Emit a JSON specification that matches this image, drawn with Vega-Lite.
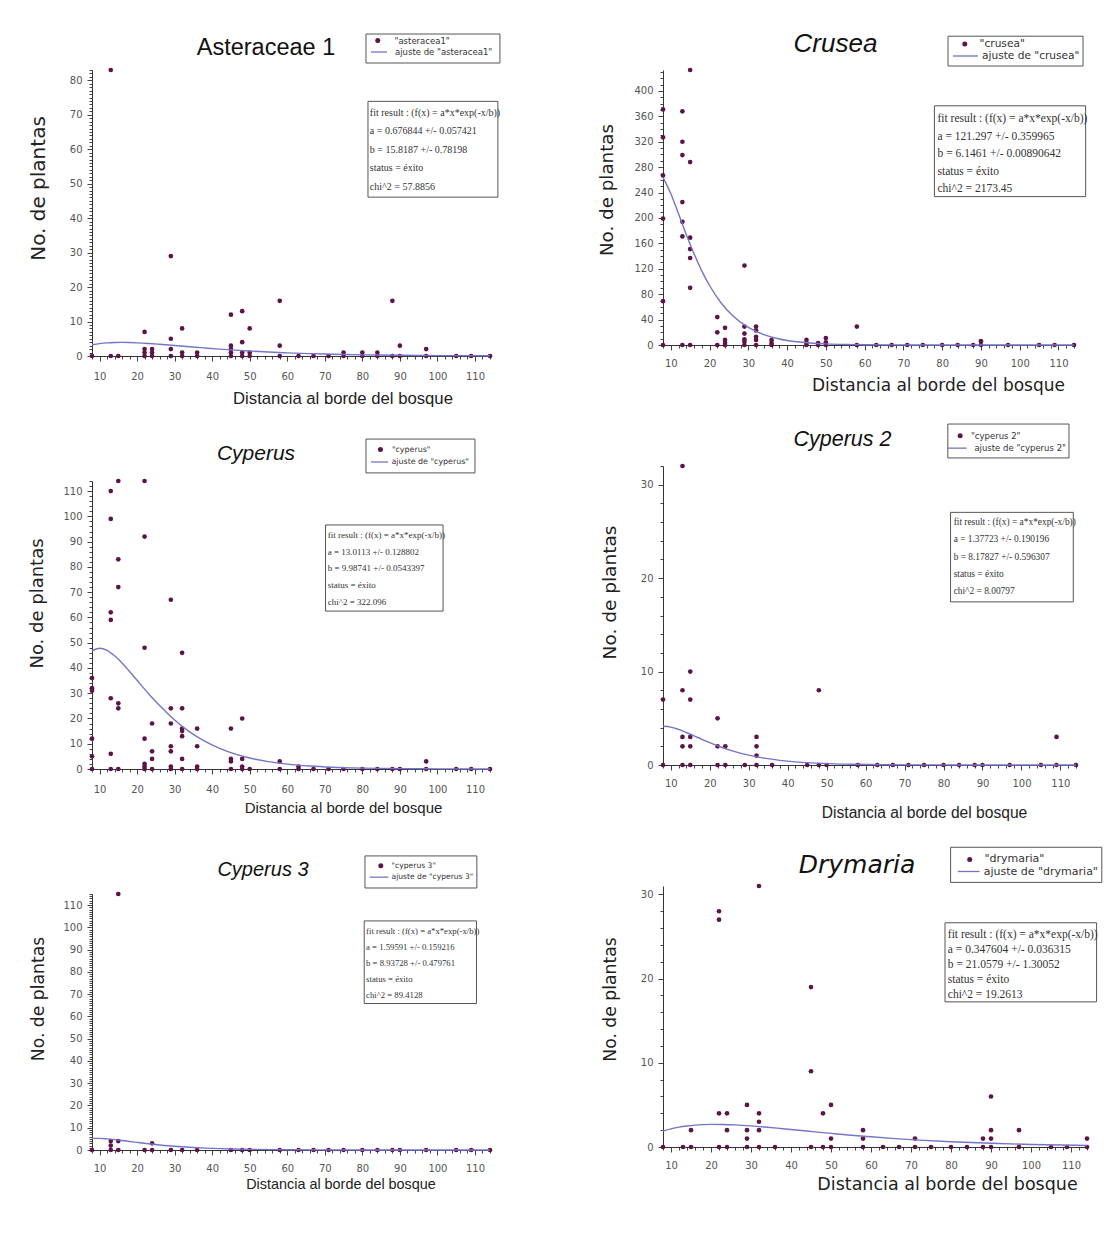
{
  "$schema": "https://vega.github.io/schema/vega-lite/v6.json",
  "background": "white",
  "padding": {"left": 28, "top": 30, "right": 2, "bottom": 2},
  "config": {
    "view": {"stroke": null},
    "axis": {"grid": false, "domainColor": "#333", "domainWidth": 1, "tickColor": "#444", "tickWidth": 1, "labelColor": "#555", "labelFont": "DejaVu Sans", "labelFontSize": 10, "titleFont": "DejaVu Sans", "titleFontWeight": "normal", "titleColor": "#222", "labelOverlap": false, "labelFlush": false, "labelBound": false},
    "legend": {"padding": 0, "rowPadding": 0, "labelFont": "DejaVu Sans", "labelColor": "#333", "symbolStrokeWidth": 1.3, "symbolOpacity": 1},
    "title": {"font": "Liberation Sans", "fontWeight": "normal", "color": "#111", "frame": "group", "anchor": "middle"}
  },
  "datasets": {
    "ast": [
      {"x": 8, "y": 0}, {"x": 13, "y": 83}, {"x": 13, "y": 0}, {"x": 15, "y": 0},
      {"x": 22, "y": 7}, {"x": 22, "y": 2}, {"x": 22, "y": 1}, {"x": 22, "y": 0},
      {"x": 24, "y": 2}, {"x": 24, "y": 1}, {"x": 24, "y": 0},
      {"x": 29, "y": 29}, {"x": 29, "y": 5}, {"x": 29, "y": 2}, {"x": 29, "y": 0},
      {"x": 32, "y": 8}, {"x": 32, "y": 1}, {"x": 32, "y": 0},
      {"x": 36, "y": 1}, {"x": 36, "y": 0},
      {"x": 45, "y": 12}, {"x": 45, "y": 3}, {"x": 45, "y": 2}, {"x": 45, "y": 1}, {"x": 45, "y": 0},
      {"x": 48, "y": 13}, {"x": 48, "y": 4}, {"x": 48, "y": 1}, {"x": 48, "y": 0},
      {"x": 50, "y": 8}, {"x": 50, "y": 1}, {"x": 50, "y": 0},
      {"x": 58, "y": 16}, {"x": 58, "y": 3}, {"x": 58, "y": 0},
      {"x": 63, "y": 0}, {"x": 67, "y": 0}, {"x": 71, "y": 0},
      {"x": 75, "y": 1}, {"x": 75, "y": 0}, {"x": 80, "y": 1}, {"x": 80, "y": 0},
      {"x": 84, "y": 1}, {"x": 84, "y": 0}, {"x": 88, "y": 16}, {"x": 88, "y": 0},
      {"x": 90, "y": 3}, {"x": 90, "y": 0}, {"x": 97, "y": 2}, {"x": 97, "y": 0},
      {"x": 105, "y": 0}, {"x": 109, "y": 0}, {"x": 114, "y": 0}
    ],
    "ast_fit": [
      {"x": 8, "y": 3.27}, {"x": 10, "y": 3.6}, {"x": 12, "y": 3.8}, {"x": 14, "y": 3.91}, {"x": 16, "y": 3.94}, {"x": 18, "y": 3.9}, {"x": 20, "y": 3.82}, {"x": 23, "y": 3.64}, {"x": 26, "y": 3.4}, {"x": 30, "y": 3.05}, {"x": 34, "y": 2.68}, {"x": 38, "y": 2.33}, {"x": 42, "y": 2.0}, {"x": 46, "y": 1.7}, {"x": 50, "y": 1.43}, {"x": 55, "y": 1.15}, {"x": 60, "y": 0.92}, {"x": 66, "y": 0.69}, {"x": 72, "y": 0.51}, {"x": 80, "y": 0.34}, {"x": 90, "y": 0.21}, {"x": 100, "y": 0.12}, {"x": 114, "y": 0.06}
    ],
    "cru": [
      {"x": 8, "y": 371}, {"x": 8, "y": 327}, {"x": 8, "y": 267}, {"x": 8, "y": 199}, {"x": 8, "y": 69}, {"x": 8, "y": 0},
      {"x": 13, "y": 368}, {"x": 13, "y": 320}, {"x": 13, "y": 299}, {"x": 13, "y": 225}, {"x": 13, "y": 194}, {"x": 13, "y": 171}, {"x": 13, "y": 0},
      {"x": 15, "y": 433}, {"x": 15, "y": 288}, {"x": 15, "y": 169}, {"x": 15, "y": 151}, {"x": 15, "y": 137}, {"x": 15, "y": 90}, {"x": 15, "y": 0},
      {"x": 22, "y": 44}, {"x": 22, "y": 20}, {"x": 22, "y": 0},
      {"x": 24, "y": 27}, {"x": 24, "y": 8}, {"x": 24, "y": 3}, {"x": 24, "y": 0},
      {"x": 29, "y": 125}, {"x": 29, "y": 29}, {"x": 29, "y": 18}, {"x": 29, "y": 9}, {"x": 29, "y": 5}, {"x": 29, "y": 0},
      {"x": 32, "y": 29}, {"x": 32, "y": 23}, {"x": 32, "y": 13}, {"x": 32, "y": 8}, {"x": 32, "y": 0},
      {"x": 36, "y": 8}, {"x": 36, "y": 3}, {"x": 36, "y": 0},
      {"x": 45, "y": 8}, {"x": 45, "y": 3}, {"x": 45, "y": 0},
      {"x": 48, "y": 3}, {"x": 48, "y": 0}, {"x": 50, "y": 11}, {"x": 50, "y": 4}, {"x": 50, "y": 0},
      {"x": 58, "y": 29}, {"x": 58, "y": 0}, {"x": 63, "y": 0}, {"x": 67, "y": 0}, {"x": 71, "y": 0}, {"x": 75, "y": 0},
      {"x": 80, "y": 0}, {"x": 84, "y": 0}, {"x": 88, "y": 0}, {"x": 90, "y": 6}, {"x": 90, "y": 0},
      {"x": 97, "y": 0}, {"x": 105, "y": 0}, {"x": 109, "y": 0}, {"x": 114, "y": 0}
    ],
    "cru_fit": [
      {"x": 8, "y": 264.0}, {"x": 10, "y": 238.4}, {"x": 12, "y": 206.6}, {"x": 14, "y": 174.1}, {"x": 16, "y": 143.7}, {"x": 18, "y": 116.7}, {"x": 20, "y": 93.7}, {"x": 23, "y": 66.2}, {"x": 26, "y": 45.9}, {"x": 30, "y": 27.6}, {"x": 34, "y": 16.3}, {"x": 38, "y": 9.5}, {"x": 42, "y": 5.5}, {"x": 46, "y": 3.1}, {"x": 50, "y": 1.8}, {"x": 55, "y": 0.9}, {"x": 60, "y": 0.4}, {"x": 66, "y": 0.2}, {"x": 72, "y": 0.1}, {"x": 80, "y": 0}, {"x": 90, "y": 0}, {"x": 100, "y": 0}, {"x": 114, "y": 0}
    ],
    "cyp": [
      {"x": 8, "y": 36}, {"x": 8, "y": 32}, {"x": 8, "y": 31}, {"x": 8, "y": 12}, {"x": 8, "y": 5}, {"x": 8, "y": 0},
      {"x": 13, "y": 110}, {"x": 13, "y": 99}, {"x": 13, "y": 62}, {"x": 13, "y": 59}, {"x": 13, "y": 28}, {"x": 13, "y": 6}, {"x": 13, "y": 0},
      {"x": 15, "y": 114}, {"x": 15, "y": 83}, {"x": 15, "y": 72}, {"x": 15, "y": 26}, {"x": 15, "y": 24}, {"x": 15, "y": 0},
      {"x": 22, "y": 114}, {"x": 22, "y": 92}, {"x": 22, "y": 48}, {"x": 22, "y": 12}, {"x": 22, "y": 2}, {"x": 22, "y": 1}, {"x": 22, "y": 0},
      {"x": 24, "y": 18}, {"x": 24, "y": 7}, {"x": 24, "y": 4}, {"x": 24, "y": 0},
      {"x": 29, "y": 67}, {"x": 29, "y": 24}, {"x": 29, "y": 18}, {"x": 29, "y": 9}, {"x": 29, "y": 7}, {"x": 29, "y": 1}, {"x": 29, "y": 0},
      {"x": 32, "y": 46}, {"x": 32, "y": 24}, {"x": 32, "y": 16}, {"x": 32, "y": 15}, {"x": 32, "y": 13}, {"x": 32, "y": 4}, {"x": 32, "y": 0},
      {"x": 36, "y": 16}, {"x": 36, "y": 9}, {"x": 36, "y": 1}, {"x": 36, "y": 0},
      {"x": 45, "y": 16}, {"x": 45, "y": 4}, {"x": 45, "y": 3}, {"x": 45, "y": 0},
      {"x": 48, "y": 20}, {"x": 48, "y": 4}, {"x": 48, "y": 1}, {"x": 48, "y": 0},
      {"x": 50, "y": 0}, {"x": 58, "y": 3}, {"x": 58, "y": 0}, {"x": 63, "y": 1}, {"x": 63, "y": 0},
      {"x": 67, "y": 0}, {"x": 71, "y": 0}, {"x": 75, "y": 0}, {"x": 80, "y": 0}, {"x": 84, "y": 0}, {"x": 88, "y": 0}, {"x": 90, "y": 0},
      {"x": 97, "y": 3}, {"x": 97, "y": 0}, {"x": 105, "y": 0}, {"x": 109, "y": 0}, {"x": 114, "y": 0}
    ],
    "cyp_fit": [
      {"x": 8, "y": 46.7}, {"x": 10, "y": 47.8}, {"x": 12, "y": 47.0}, {"x": 14, "y": 44.8}, {"x": 16, "y": 42.0}, {"x": 18, "y": 38.6}, {"x": 20, "y": 35.1}, {"x": 23, "y": 29.9}, {"x": 26, "y": 25.1}, {"x": 30, "y": 19.4}, {"x": 34, "y": 14.7}, {"x": 38, "y": 11.0}, {"x": 42, "y": 8.15}, {"x": 46, "y": 5.98}, {"x": 50, "y": 4.36}, {"x": 55, "y": 2.91}, {"x": 60, "y": 1.92}, {"x": 66, "y": 1.16}, {"x": 72, "y": 0.69}, {"x": 80, "y": 0.35}, {"x": 90, "y": 0.14}, {"x": 100, "y": 0.06}, {"x": 114, "y": 0.02}
    ],
    "cyp2": [
      {"x": 8, "y": 7}, {"x": 8, "y": 0},
      {"x": 13, "y": 32}, {"x": 13, "y": 8}, {"x": 13, "y": 3}, {"x": 13, "y": 2}, {"x": 13, "y": 0},
      {"x": 15, "y": 10}, {"x": 15, "y": 7}, {"x": 15, "y": 3}, {"x": 15, "y": 2}, {"x": 15, "y": 0},
      {"x": 22, "y": 5}, {"x": 22, "y": 2}, {"x": 22, "y": 0}, {"x": 24, "y": 2}, {"x": 24, "y": 0},
      {"x": 29, "y": 0}, {"x": 32, "y": 3}, {"x": 32, "y": 2}, {"x": 32, "y": 1}, {"x": 32, "y": 0},
      {"x": 36, "y": 0}, {"x": 45, "y": 0}, {"x": 48, "y": 8}, {"x": 48, "y": 0}, {"x": 50, "y": 0},
      {"x": 58, "y": 0}, {"x": 63, "y": 0}, {"x": 67, "y": 0}, {"x": 71, "y": 0}, {"x": 75, "y": 0}, {"x": 80, "y": 0},
      {"x": 84, "y": 0}, {"x": 88, "y": 0}, {"x": 90, "y": 0}, {"x": 97, "y": 0}, {"x": 105, "y": 0},
      {"x": 109, "y": 3}, {"x": 109, "y": 0}, {"x": 114, "y": 0}
    ],
    "cyp2_fit": [
      {"x": 8, "y": 4.14}, {"x": 10, "y": 4.06}, {"x": 12, "y": 3.81}, {"x": 14, "y": 3.48}, {"x": 16, "y": 3.12}, {"x": 18, "y": 2.74}, {"x": 20, "y": 2.39}, {"x": 23, "y": 1.9}, {"x": 26, "y": 1.49}, {"x": 30, "y": 1.05}, {"x": 34, "y": 0.73}, {"x": 38, "y": 0.5}, {"x": 42, "y": 0.34}, {"x": 46, "y": 0.23}, {"x": 50, "y": 0.15}, {"x": 55, "y": 0.09}, {"x": 60, "y": 0.05}, {"x": 66, "y": 0.03}, {"x": 72, "y": 0.01}, {"x": 80, "y": 0.01}, {"x": 90, "y": 0}, {"x": 100, "y": 0}, {"x": 114, "y": 0}
    ],
    "cyp3": [
      {"x": 8, "y": 0}, {"x": 13, "y": 4}, {"x": 13, "y": 2}, {"x": 13, "y": 0},
      {"x": 15, "y": 115}, {"x": 15, "y": 4}, {"x": 15, "y": 0},
      {"x": 22, "y": 0}, {"x": 24, "y": 3}, {"x": 24, "y": 0}, {"x": 29, "y": 0}, {"x": 32, "y": 0}, {"x": 36, "y": 0},
      {"x": 45, "y": 0}, {"x": 48, "y": 0}, {"x": 50, "y": 0}, {"x": 58, "y": 0}, {"x": 63, "y": 0}, {"x": 67, "y": 0},
      {"x": 71, "y": 0}, {"x": 75, "y": 0}, {"x": 80, "y": 0}, {"x": 84, "y": 0}, {"x": 88, "y": 0}, {"x": 90, "y": 0},
      {"x": 97, "y": 0}, {"x": 105, "y": 0}, {"x": 109, "y": 0}, {"x": 114, "y": 0}
    ],
    "cyp3_fit": [
      {"x": 8, "y": 5.22}, {"x": 10, "y": 5.21}, {"x": 12, "y": 5.0}, {"x": 14, "y": 4.67}, {"x": 16, "y": 4.26}, {"x": 18, "y": 3.83}, {"x": 20, "y": 3.41}, {"x": 23, "y": 2.8}, {"x": 26, "y": 2.26}, {"x": 30, "y": 1.67}, {"x": 34, "y": 1.21}, {"x": 38, "y": 0.86}, {"x": 42, "y": 0.61}, {"x": 46, "y": 0.43}, {"x": 50, "y": 0.3}, {"x": 55, "y": 0.19}, {"x": 60, "y": 0.12}, {"x": 66, "y": 0.07}, {"x": 72, "y": 0.04}, {"x": 80, "y": 0.02}, {"x": 90, "y": 0.01}, {"x": 100, "y": 0}, {"x": 114, "y": 0}
    ],
    "dry": [
      {"x": 8, "y": 0}, {"x": 13, "y": 0}, {"x": 15, "y": 2}, {"x": 15, "y": 0},
      {"x": 22, "y": 28}, {"x": 22, "y": 27}, {"x": 22, "y": 4}, {"x": 22, "y": 0},
      {"x": 24, "y": 4}, {"x": 24, "y": 2}, {"x": 24, "y": 0},
      {"x": 29, "y": 5}, {"x": 29, "y": 2}, {"x": 29, "y": 1}, {"x": 29, "y": 0},
      {"x": 32, "y": 31}, {"x": 32, "y": 4}, {"x": 32, "y": 3}, {"x": 32, "y": 2}, {"x": 32, "y": 0},
      {"x": 36, "y": 0}, {"x": 45, "y": 19}, {"x": 45, "y": 9}, {"x": 45, "y": 0},
      {"x": 48, "y": 4}, {"x": 48, "y": 0}, {"x": 50, "y": 5}, {"x": 50, "y": 1}, {"x": 50, "y": 0},
      {"x": 58, "y": 2}, {"x": 58, "y": 1}, {"x": 58, "y": 0}, {"x": 63, "y": 0}, {"x": 67, "y": 0},
      {"x": 71, "y": 1}, {"x": 71, "y": 0}, {"x": 75, "y": 0}, {"x": 80, "y": 0}, {"x": 84, "y": 0},
      {"x": 88, "y": 1}, {"x": 88, "y": 0}, {"x": 90, "y": 6}, {"x": 90, "y": 2}, {"x": 90, "y": 1}, {"x": 90, "y": 0},
      {"x": 97, "y": 2}, {"x": 97, "y": 0}, {"x": 105, "y": 0}, {"x": 109, "y": 0}, {"x": 114, "y": 1}, {"x": 114, "y": 0}
    ],
    "dry_fit": [
      {"x": 8, "y": 1.9}, {"x": 10, "y": 2.16}, {"x": 12, "y": 2.36}, {"x": 14, "y": 2.5}, {"x": 16, "y": 2.6}, {"x": 18, "y": 2.66}, {"x": 20, "y": 2.69}, {"x": 23, "y": 2.68}, {"x": 26, "y": 2.63}, {"x": 30, "y": 2.51}, {"x": 34, "y": 2.35}, {"x": 38, "y": 2.17}, {"x": 42, "y": 1.99}, {"x": 46, "y": 1.8}, {"x": 50, "y": 1.62}, {"x": 55, "y": 1.4}, {"x": 60, "y": 1.21}, {"x": 66, "y": 1.0}, {"x": 72, "y": 0.82}, {"x": 80, "y": 0.62}, {"x": 90, "y": 0.44}, {"x": 100, "y": 0.3}, {"x": 114, "y": 0.18}
    ]
  },
  "resolve": {"scale": {"color": "independent"}, "legend": {"color": "independent"}},
  "spacing": 95,
  "hconcat": [
    {
      "vconcat": [
        {
          "width": 398, "height": 286,
          "title": {"text": "Asteraceae 1", "fontSize": 23.5, "fontStyle": "normal", "dx": -25, "offset": -26},
          "resolve": {"scale": {"color": "independent"}, "legend": {"color": "independent"}},
          "layer": [
            {"data": {"values": [{}]}, "mark": {"type": "rect", "fill": "white", "stroke": "#555", "strokeWidth": 1}, "encoding": {"x": {"datum": 80.97}, "x2": {"datum": 116.65}, "y": {"datum": 93.44}, "y2": {"datum": 85.03}}},
            {"data": {"values": [{}]}, "mark": {"type": "rect", "fill": "white", "stroke": "#555", "strokeWidth": 1}, "encoding": {"x": {"datum": 81.5}, "x2": {"datum": 116.1}, "y": {"datum": 73.9}, "y2": {"datum": 46.1}}},
            {"data": {"values": [{}]}, "mark": {"type": "text", "align": "left", "baseline": "top", "font": "Liberation Serif", "fontSize": 10, "lineHeight": 18.5, "color": "#333"}, "encoding": {"x": {"datum": 82}, "y": {"datum": 72}, "text": {"value": ["fit result : (f(x) = a*x*exp(-x/b))", "a = 0.676844 +/- 0.057421", "b = 15.8187 +/- 0.78198", "status = éxito", "chi^2 = 57.8856"]}}},
            {"data": {"name": "ast"}, "mark": {"type": "point", "filled": true, "shape": "circle", "size": 22, "opacity": 1},
              "encoding": {
                "x": {"field": "x", "type": "quantitative", "scale": {"domain": [8, 114], "nice": false, "zero": false}, "axis": {"title": "Distancia al borde del bosque", "tickCount": 53, "labelExpr": "datum.value % 10 === 0 ? datum.label : ''", "tickSize": {"condition": {"test": "datum.value % 10 === 0", "value": 5}, "value": 3}, "labelPadding": 10, "titleFont": "Liberation Sans", "titleFontSize": 16.7, "titleX": 250.5, "titleY": 42, "titleAlign": "center", "titleBaseline": "middle"}},
                "y": {"field": "y", "type": "quantitative", "scale": {"domain": [0, 83], "nice": false}, "axis": {"title": "No. de plantas", "tickCount": 83, "labelExpr": "datum.value % 10 === 0 ? datum.label : ''", "tickSize": {"condition": {"test": "datum.value % 10 === 0", "value": 5}, "value": 3}, "labelPadding": 5, "titleFontSize": 20, "titleX": -53.5, "titleY": 118, "titleAlign": "center", "titleBaseline": "middle"}},
                "color": {"datum": "\"asteracea1\"", "scale": {"domain": ["\"asteracea1\""], "range": ["#5c1448"]},
                  "legend": {"orient": "none", "legendX": 281.5, "legendY": -33.75, "title": null, "symbolType": "circle", "symbolSize": 25, "labelOffset": 12.5, "labelFontSize": 8.5}}
              }},
            {"data": {"name": "ast_fit"}, "mark": {"type": "line", "interpolate": "monotone", "strokeWidth": 1.4},
              "encoding": {"x": {"field": "x", "type": "quantitative"}, "y": {"field": "y", "type": "quantitative"},
                "color": {"datum": "ajuste de \"asteracea1\"", "scale": {"domain": ["ajuste de \"asteracea1\""], "range": ["#7574c6"]},
                  "legend": {"orient": "none", "legendX": 278, "legendY": -27, "title": null, "symbolType": "stroke", "symbolSize": 256, "labelOffset": 7, "labelFontSize": 8.5}}}}
          ]
        },
        {
          "width": 398, "height": 288,
          "title": {"text": "Cyperus", "fontSize": 21, "fontStyle": "italic", "dx": -35, "offset": -25},
          "resolve": {"scale": {"color": "independent"}, "legend": {"color": "independent"}},
          "layer": [
            {"data": {"values": [{}]}, "mark": {"type": "rect", "fill": "white", "stroke": "#555", "strokeWidth": 1}, "encoding": {"x": {"datum": 80.97}, "x2": {"datum": 110.0}, "y": {"datum": 130.6}, "y2": {"datum": 117.2}}},
            {"data": {"values": [{}]}, "mark": {"type": "rect", "fill": "white", "stroke": "#555", "strokeWidth": 1}, "encoding": {"x": {"datum": 70.2}, "x2": {"datum": 101.5}, "y": {"datum": 96.6}, "y2": {"datum": 62.5}}},
            {"data": {"values": [{}]}, "mark": {"type": "text", "align": "left", "baseline": "top", "font": "Liberation Serif", "fontSize": 9, "lineHeight": 16.7, "color": "#333"}, "encoding": {"x": {"datum": 70.8}, "y": {"datum": 94.2}, "text": {"value": ["fit result : (f(x) = a*x*exp(-x/b))", "a = 13.0113 +/- 0.128802", "b = 9.98741 +/- 0.0543397", "status = éxito", "chi^2 = 322.096"]}}},
            {"data": {"name": "cyp"}, "mark": {"type": "point", "filled": true, "shape": "circle", "size": 22, "opacity": 1},
              "encoding": {
                "x": {"field": "x", "type": "quantitative", "scale": {"domain": [8, 114], "nice": false, "zero": false}, "axis": {"title": "Distancia al borde del bosque", "tickCount": 53, "labelExpr": "datum.value % 10 === 0 ? datum.label : ''", "tickSize": {"condition": {"test": "datum.value % 10 === 0", "value": 5}, "value": 3}, "labelPadding": 10, "titleFont": "Liberation Sans", "titleFontSize": 15, "titleX": 251, "titleY": 38.7, "titleAlign": "center", "titleBaseline": "middle"}},
                "y": {"field": "y", "type": "quantitative", "scale": {"domain": [0, 114], "nice": false}, "axis": {"title": "No. de plantas", "tickCount": 57, "labelExpr": "datum.value % 10 === 0 ? datum.label : ''", "tickSize": {"condition": {"test": "datum.value % 10 === 0", "value": 5}, "value": 3}, "labelPadding": 5, "titleFontSize": 18, "titleX": -54.5, "titleY": 122, "titleAlign": "center", "titleBaseline": "middle"}},
                "color": {"datum": "\"cyperus\"", "scale": {"domain": ["\"cyperus\""], "range": ["#5c1448"]},
                  "legend": {"orient": "none", "legendX": 284.5, "legendY": -35.4, "title": null, "symbolType": "circle", "symbolSize": 25, "labelOffset": 7.5, "labelFontSize": 7.9}}
              }},
            {"data": {"name": "cyp_fit"}, "mark": {"type": "line", "interpolate": "monotone", "strokeWidth": 1.4},
              "encoding": {"x": {"field": "x", "type": "quantitative"}, "y": {"field": "y", "type": "quantitative"},
                "color": {"datum": "ajuste de \"cyperus\"", "scale": {"domain": ["ajuste de \"cyperus\""], "range": ["#7574c6"]},
                  "legend": {"orient": "none", "legendX": 278, "legendY": -28.5, "title": null, "symbolType": "stroke", "symbolSize": 289, "labelOffset": 2.5, "labelFontSize": 7.9}}}}
          ]
        },
        {
          "width": 398, "height": 256,
          "title": {"text": "Cyperus 3", "fontSize": 20, "fontStyle": "italic", "dx": -28, "offset": -25},
          "resolve": {"scale": {"color": "independent"}, "legend": {"color": "independent"}},
          "layer": [
            {"data": {"values": [{}]}, "mark": {"type": "rect", "fill": "white", "stroke": "#555", "strokeWidth": 1}, "encoding": {"x": {"datum": 80.7}, "x2": {"datum": 110.5}, "y": {"datum": 132.1}, "y2": {"datum": 117.7}}},
            {"data": {"values": [{}]}, "mark": {"type": "rect", "fill": "white", "stroke": "#555", "strokeWidth": 1}, "encoding": {"x": {"datum": 80.5}, "x2": {"datum": 110.4}, "y": {"datum": 102.9}, "y2": {"datum": 65.8}}},
            {"data": {"values": [{}]}, "mark": {"type": "text", "align": "left", "baseline": "top", "font": "Liberation Serif", "fontSize": 8.7, "lineHeight": 16, "color": "#333"}, "encoding": {"x": {"datum": 81}, "y": {"datum": 100.4}, "text": {"value": ["fit result : (f(x) = a*x*exp(-x/b))", "a = 1.59591 +/- 0.159216", "b = 8.93728 +/- 0.479761", "status = éxito", "chi^2 = 89.4128"]}}},
            {"data": {"name": "cyp3"}, "mark": {"type": "point", "filled": true, "shape": "circle", "size": 22, "opacity": 1},
              "encoding": {
                "x": {"field": "x", "type": "quantitative", "scale": {"domain": [8, 114], "nice": false, "zero": false}, "axis": {"title": "Distancia al borde del bosque", "tickCount": 53, "labelExpr": "datum.value % 10 === 0 ? datum.label : ''", "tickSize": {"condition": {"test": "datum.value % 10 === 0", "value": 5}, "value": 3}, "labelPadding": 8, "titleFont": "Liberation Sans", "titleFontSize": 14.4, "titleX": 248.5, "titleY": 34.3, "titleAlign": "center", "titleBaseline": "middle"}},
                "y": {"field": "y", "type": "quantitative", "scale": {"domain": [0, 115], "nice": false}, "axis": {"title": "No. de plantas", "tickCount": 115, "labelExpr": "datum.value % 10 === 0 ? datum.label : ''", "tickSize": {"condition": {"test": "datum.value % 10 === 0", "value": 5}, "value": 3}, "labelPadding": 5, "titleFontSize": 17.2, "titleX": -53.5, "titleY": 104.5, "titleAlign": "center", "titleBaseline": "middle"}},
                "color": {"datum": "\"cyperus 3\"", "scale": {"domain": ["\"cyperus 3\""], "range": ["#5c1448"]},
                  "legend": {"orient": "none", "legendX": 285, "legendY": -32.1, "title": null, "symbolType": "circle", "symbolSize": 25, "labelOffset": 7, "labelFontSize": 7.6}}
              }},
            {"data": {"name": "cyp3_fit"}, "mark": {"type": "line", "interpolate": "monotone", "strokeWidth": 1.4},
              "encoding": {"x": {"field": "x", "type": "quantitative"}, "y": {"field": "y", "type": "quantitative"},
                "color": {"datum": "ajuste de \"cyperus 3\"", "scale": {"domain": ["ajuste de \"cyperus 3\""], "range": ["#7574c6"]},
                  "legend": {"orient": "none", "legendX": 276.5, "legendY": -27.35, "title": null, "symbolType": "stroke", "symbolSize": 350, "labelOffset": 2, "labelFontSize": 7.6}}}}
          ]
        }
      ],
      "spacing": 125, "bounds": "flush",
      "resolve": {"scale": {"color": "independent"}, "legend": {"color": "independent"}}
    },
    {
      "vconcat": [
        {
          "width": 411, "height": 275,
          "title": {"text": "Crusea", "fontSize": 26, "fontStyle": "italic", "dx": -33, "offset": -21},
          "resolve": {"scale": {"color": "independent"}, "legend": {"color": "independent"}},
          "layer": [
            {"data": {"values": [{}]}, "mark": {"type": "rect", "fill": "white", "stroke": "#555", "strokeWidth": 1}, "encoding": {"x": {"datum": 81.51}, "x2": {"datum": 116.33}, "y": {"datum": 486.2}, "y2": {"datum": 439.3}}},
            {"data": {"values": [{}]}, "mark": {"type": "rect", "fill": "white", "stroke": "#555", "strokeWidth": 1}, "encoding": {"x": {"datum": 78}, "x2": {"datum": 117}, "y": {"datum": 376.6}, "y2": {"datum": 233.6}}},
            {"data": {"values": [{}]}, "mark": {"type": "text", "align": "left", "baseline": "top", "font": "Liberation Serif", "fontSize": 11.5, "lineHeight": 17.5, "color": "#333"}, "encoding": {"x": {"datum": 78.8}, "y": {"datum": 365}, "text": {"value": ["fit result : (f(x) = a*x*exp(-x/b))", "a = 121.297 +/- 0.359965", "b = 6.1461 +/- 0.00890642", "status = éxito", "chi^2 = 2173.45"]}}},
            {"data": {"name": "cru"}, "mark": {"type": "point", "filled": true, "shape": "circle", "size": 22, "opacity": 1},
              "encoding": {
                "x": {"field": "x", "type": "quantitative", "scale": {"domain": [8, 114], "nice": false, "zero": false}, "axis": {"title": "Distancia al borde del bosque", "tickCount": 53, "labelExpr": "datum.value % 10 === 0 ? datum.label : ''", "tickSize": {"condition": {"test": "datum.value % 10 === 0", "value": 5}, "value": 3}, "labelPadding": 8, "titleFontSize": 17, "titleX": 275, "titleY": 40, "titleAlign": "center", "titleBaseline": "middle"}},
                "y": {"field": "y", "type": "quantitative", "scale": {"domain": [0, 433], "nice": false}, "axis": {"title": "No. de plantas", "tickCount": 43, "labelExpr": "datum.value % 40 === 0 ? datum.label : ''", "tickSize": {"condition": {"test": "datum.value % 40 === 0", "value": 5}, "value": 3}, "labelPadding": 5, "titleFontSize": 18.3, "titleX": -56, "titleY": 119.5, "titleAlign": "center", "titleBaseline": "middle"}},
                "color": {"datum": "\"crusea\"", "scale": {"domain": ["\"crusea\""], "range": ["#5c1448"]},
                  "legend": {"orient": "none", "legendX": 296.5, "legendY": -31.2, "title": null, "symbolType": "circle", "symbolSize": 25, "labelOffset": 9.5, "labelFontSize": 10.6}}
              }},
            {"data": {"name": "cru_fit"}, "mark": {"type": "line", "interpolate": "monotone", "strokeWidth": 1.4},
              "encoding": {"x": {"field": "x", "type": "quantitative"}, "y": {"field": "y", "type": "quantitative"},
                "color": {"datum": "ajuste de \"crusea\"", "scale": {"domain": ["ajuste de \"crusea\""], "range": ["#7574c6"]},
                  "legend": {"orient": "none", "legendX": 289, "legendY": -27.5, "title": null, "symbolType": "stroke", "symbolSize": 625, "labelOffset": 3, "labelFontSize": 10.6}}}}
          ]
        },
        {
          "width": 413, "height": 299,
          "title": {"text": "Cyperus 2", "fontSize": 21.5, "fontStyle": "italic", "dx": -27, "offset": -27},
          "resolve": {"scale": {"color": "independent"}, "legend": {"color": "independent"}},
          "layer": [
            {"data": {"values": [{}]}, "mark": {"type": "rect", "fill": "white", "stroke": "#555", "strokeWidth": 1}, "encoding": {"x": {"datum": 81.1}, "x2": {"datum": 112.2}, "y": {"datum": 36.49}, "y2": {"datum": 32.86}}},
            {"data": {"values": [{}]}, "mark": {"type": "rect", "fill": "white", "stroke": "#555", "strokeWidth": 1}, "encoding": {"x": {"datum": 81.8}, "x2": {"datum": 113.3}, "y": {"datum": 27.04}, "y2": {"datum": 17.46}}},
            {"data": {"values": [{}]}, "mark": {"type": "text", "align": "left", "baseline": "top", "font": "Liberation Serif", "fontSize": 9.4, "lineHeight": 17.3, "color": "#333"}, "encoding": {"x": {"datum": 82.6}, "y": {"datum": 26.43}, "text": {"value": ["fit result : (f(x) = a*x*exp(-x/b))", "a = 1.37723 +/- 0.190196", "b = 8.17827 +/- 0.596307", "status = éxito", "chi^2 = 8.00797"]}}},
            {"data": {"name": "cyp2"}, "mark": {"type": "point", "filled": true, "shape": "circle", "size": 22, "opacity": 1},
              "encoding": {
                "x": {"field": "x", "type": "quantitative", "scale": {"domain": [8, 114], "nice": false, "zero": false}, "axis": {"title": "Distancia al borde del bosque", "tickCount": 53, "labelExpr": "datum.value % 10 === 0 ? datum.label : ''", "tickSize": {"condition": {"test": "datum.value % 10 === 0", "value": 5}, "value": 3}, "labelPadding": 8, "titleFont": "Liberation Sans", "titleFontSize": 15.6, "titleX": 261, "titleY": 47, "titleAlign": "center", "titleBaseline": "middle"}},
                "y": {"field": "y", "type": "quantitative", "scale": {"domain": [0, 32], "nice": false}, "axis": {"title": "No. de plantas", "tickCount": 16, "labelExpr": "datum.value % 10 === 0 ? datum.label : ''", "tickSize": {"condition": {"test": "datum.value % 10 === 0", "value": 5}, "value": 3}, "labelPadding": 5, "titleFontSize": 18.5, "titleX": -54, "titleY": 126, "titleAlign": "center", "titleBaseline": "middle"}},
                "color": {"datum": "\"cyperus 2\"", "scale": {"domain": ["\"cyperus 2\""], "range": ["#5c1448"]},
                  "legend": {"orient": "none", "legendX": 292.9, "legendY": -34.6, "title": null, "symbolType": "circle", "symbolSize": 25, "labelOffset": 6.5, "labelFontSize": 8.5}}
              }},
            {"data": {"name": "cyp2_fit"}, "mark": {"type": "line", "interpolate": "monotone", "strokeWidth": 1.4},
              "encoding": {"x": {"field": "x", "type": "quantitative"}, "y": {"field": "y", "type": "quantitative"},
                "color": {"datum": "ajuste de \"cyperus 2\"", "scale": {"domain": ["ajuste de \"cyperus 2\""], "range": ["#7574c6"]},
                  "legend": {"orient": "none", "legendX": 283.8, "legendY": -28.35, "title": null, "symbolType": "stroke", "symbolSize": 350, "labelOffset": 6.6, "labelFontSize": 8.5}}}}
          ]
        },
        {
          "width": 424, "height": 261,
          "title": {"text": "Drymaria", "font": "DejaVu Sans", "fontSize": 25, "fontStyle": "italic", "dx": -18, "offset": -31},
          "resolve": {"scale": {"color": "independent"}, "legend": {"color": "independent"}},
          "layer": [
            {"data": {"values": [{}]}, "mark": {"type": "rect", "fill": "white", "stroke": "#555", "strokeWidth": 1}, "encoding": {"x": {"datum": 79.9}, "x2": {"datum": 117.7}, "y": {"datum": 35.6}, "y2": {"datum": 31.43}}},
            {"data": {"values": [{}]}, "mark": {"type": "rect", "fill": "white", "stroke": "#555", "strokeWidth": 1}, "encoding": {"x": {"datum": 78.5}, "x2": {"datum": 116.4}, "y": {"datum": 26.63}, "y2": {"datum": 17.24}}},
            {"data": {"values": [{}]}, "mark": {"type": "text", "align": "left", "baseline": "top", "font": "Liberation Serif", "fontSize": 11.5, "lineHeight": 15, "color": "#333"}, "encoding": {"x": {"datum": 79.2}, "y": {"datum": 25.92}, "text": {"value": ["fit result : (f(x) = a*x*exp(-x/b))", "a = 0.347604 +/- 0.036315", "b = 21.0579 +/- 1.30052", "status = éxito", "chi^2 = 19.2613"]}}},
            {"data": {"name": "dry"}, "mark": {"type": "point", "filled": true, "shape": "circle", "size": 22, "opacity": 1},
              "encoding": {
                "x": {"field": "x", "type": "quantitative", "scale": {"domain": [8, 114], "nice": false, "zero": false}, "axis": {"title": "Distancia al borde del bosque", "tickCount": 53, "labelExpr": "datum.value % 10 === 0 ? datum.label : ''", "tickSize": {"condition": {"test": "datum.value % 10 === 0", "value": 5}, "value": 3}, "labelPadding": 8, "titleFontSize": 17.5, "titleX": 284, "titleY": 37.7, "titleAlign": "center", "titleBaseline": "middle"}},
                "y": {"field": "y", "type": "quantitative", "scale": {"domain": [0, 31], "nice": false}, "axis": {"title": "No. de plantas", "tickCount": 15, "labelExpr": "datum.value % 10 === 0 ? datum.label : ''", "tickSize": {"condition": {"test": "datum.value % 10 === 0", "value": 5}, "value": 3}, "labelPadding": 5, "titleFontSize": 17.2, "titleX": -53, "titleY": 113, "titleAlign": "center", "titleBaseline": "middle"}},
                "color": {"datum": "\"drymaria\"", "scale": {"domain": ["\"drymaria\""], "range": ["#5c1448"]},
                  "legend": {"orient": "none", "legendX": 301.2, "legendY": -32.1, "title": null, "symbolType": "circle", "symbolSize": 25, "labelOffset": 9.2, "labelFontSize": 11}}
              }},
            {"data": {"name": "dry_fit"}, "mark": {"type": "line", "interpolate": "monotone", "strokeWidth": 1.4},
              "encoding": {"x": {"field": "x", "type": "quantitative"}, "y": {"field": "y", "type": "quantitative"},
                "color": {"datum": "ajuste de \"drymaria\"", "scale": {"domain": ["ajuste de \"drymaria\""], "range": ["#7574c6"]},
                  "legend": {"orient": "none", "legendX": 293.7, "legendY": -26.5, "title": null, "symbolType": "stroke", "symbolSize": 471, "labelOffset": 3, "labelFontSize": 11}}}}
          ]
        }
      ],
      "spacing": 121, "bounds": "flush",
      "resolve": {"scale": {"color": "independent"}, "legend": {"color": "independent"}}
    }
  ]
}
